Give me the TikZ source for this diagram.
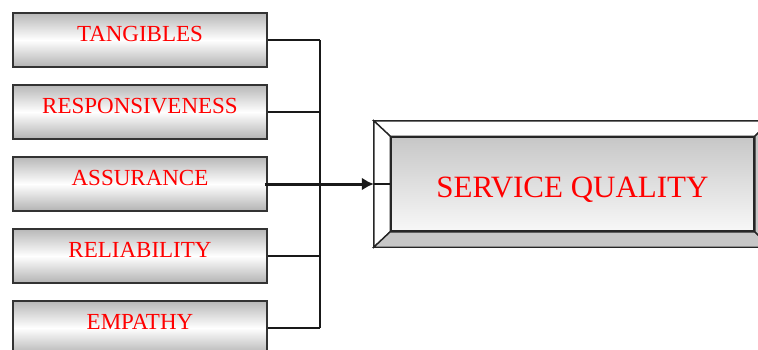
\documentclass[tikz,border=0pt]{standalone}
\usepackage{fontspec}
\setmainfont{Liberation Serif}
\usetikzlibrary{arrows.meta}

\tikzset{
  factor/.style={draw=black!80, line width=1.6pt, inner sep=0pt,
    minimum width=254pt, minimum height=54pt,
    top color=black!28, bottom color=black!30, middle color=white,
    text=red, font=\fontsize{23}{23}\selectfont, text depth=12pt},
  outcome/.style={draw=black!85, line width=1.6pt, inner sep=0pt,
    minimum width=363pt, minimum height=94pt,
    top color=black!22, bottom color=black!3,
    text=red, font=\fontsize{31}{31}\selectfont,
    text height=27.5pt, text depth=0pt},
  frame/.style={inner sep=0pt, minimum width=397pt, minimum height=126pt},
  link/.style={line width=1.4pt, draw=black!90},
}

\begin{document}
\begin{tikzpicture}[x=1pt,y=-1pt]
  \path[use as bounding box] (0,0) rectangle (758,349);
  \clip (0,0) rectangle (758,349);

  % the five dimensions
  \foreach \name/\txt [count=\i] in {tang/TANGIBLES, resp/RESPONSIVENESS,
      assur/ASSURANCE, rel/RELIABILITY, emp/EMPATHY} {
    \node[factor] (\name) at (140,{40+72*(\i-1)}) {\txt};
  }

  % bevelled result box
  \node[frame] (sq) at (572.5,184) {};
  \node[outcome] (sqin) at (572.5,184) {SERVICE QUALITY};
  \filldraw[fill=white, draw=black!85, line width=1.4pt]
    (sq.north west) -- (sq.north east) -- (sqin.north east) -- (sqin.north west) -- cycle;
  \filldraw[fill=white, draw=black!85, line width=1.4pt]
    (sq.north west) -- (sqin.north west) -- (sqin.south west) -- (sq.south west) -- cycle;
  \filldraw[fill=black!22, draw=black!85, line width=1.4pt]
    (sq.south west) -- (sqin.south west) -- (sqin.south east) -- (sq.south east) -- cycle;
  \filldraw[fill=black!22, draw=black!85, line width=1.4pt]
    (sq.north east) -- (sqin.north east) -- (sqin.south east) -- (sq.south east) -- cycle;

  % collecting bus
  \coordinate (bus) at (320,0);
  \draw[link] (tang.east -| bus) -- (emp.east -| bus);
  \foreach \name in {tang,resp,rel,emp}
    \draw[link] (\name.east) -- (\name.east -| bus);

  \draw[link, line width=3pt, -{Latex[length=12pt,width=13pt]}]
    ([xshift=-3pt]assur.east) -- (sq.west);
  \draw[link] (sq.west) -- (sqin.west);
\end{tikzpicture}
\end{document}
